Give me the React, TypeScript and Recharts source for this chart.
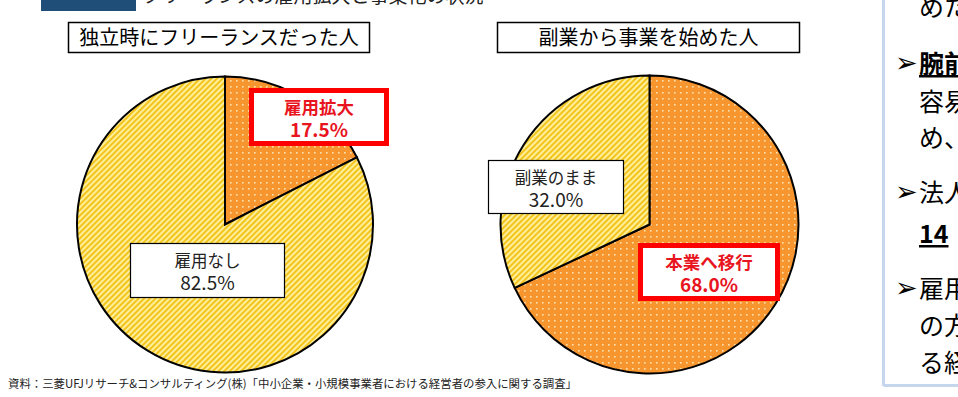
import React from 'react';
import { PieChart, Pie, Cell } from 'recharts';

// ---- data ----
const freelanceCategories = ['雇用拡大', '雇用なし'];
const freelanceValues = [17.5, 82.5];
const sideCategories = ['本業へ移行', '副業のまま'];
const sideValues = [68.0, 32.0];
const chartTitles = ['独立時にフリーランスだった人', '副業から事業を始めた人'];
const sourceNote = '資料：三菱UFJリサーチ&コンサルティング(株)「中小企業・小規模事業者における経営者の参入に関する調査」';
const sideTextLines = ['めた', '腕前', '容易', 'め、', '法人', '14', '雇用', 'の方', 'る経'];

const freelanceData = freelanceCategories.map((name, i) => ({ name, value: freelanceValues[i] }));
const sideData = sideCategories.map((name, i) => ({ name, value: sideValues[i] }));

const FONT = '"Noto Sans CJK JP", "Noto Sans", sans-serif';
const W = 958;
const H = 397;

type Box = { x: number; y: number; w: number; h: number; red: boolean; label: string; value: number };

const boxes: Box[] = [
  { x: 251.5, y: 90.5, w: 135, h: 53, red: true, label: freelanceCategories[0], value: freelanceValues[0] },
  { x: 130.5, y: 243.5, w: 154, h: 54, red: false, label: freelanceCategories[1], value: freelanceValues[1] },
  { x: 640.5, y: 245.5, w: 137, h: 53, red: true, label: sideCategories[0], value: sideValues[0] },
  { x: 488.5, y: 160.5, w: 135, h: 53, red: false, label: sideCategories[1], value: sideValues[1] },
];

const sideLayout = [
  { y: 16, arrow: false, bold: false, ul: false },
  { y: 73, arrow: true, bold: true, ul: true },
  { y: 111, arrow: false, bold: false, ul: false },
  { y: 147, arrow: false, bold: false, ul: false },
  { y: 202, arrow: true, bold: false, ul: false },
  { y: 243, arrow: false, bold: true, ul: true },
  { y: 298, arrow: true, bold: false, ul: false },
  { y: 335, arrow: false, bold: false, ul: false },
  { y: 372, arrow: false, bold: false, ul: false },
];

export default function App() {
  return (
    <div style={{ position: 'absolute', left: 0, top: 0, width: W, height: H, overflow: 'hidden', background: '#fff', fontFamily: FONT }}>
      <svg width={0} height={0} style={{ position: 'absolute' }}>
        <defs>
          <pattern id="hatch" width={4} height={4} patternUnits="userSpaceOnUse" patternTransform="rotate(45)">
            <rect width={4} height={4} fill="#FFEE9A" />
            <rect width={2} height={4} fill="#F2C41C" />
          </pattern>
          <pattern id="dots" width={6} height={6} patternUnits="userSpaceOnUse">
            <rect width={6} height={6} fill="#F7962F" />
            <rect x={2} y={2} width={1.6} height={1.6} fill="#FFE2B0" />
          </pattern>
        </defs>
      </svg>

      <div style={{ position: 'absolute', left: 0, top: 0 }}>
        <PieChart width={W} height={H} margin={{ top: 0, right: 0, bottom: 0, left: 0 }}>
          <Pie
            data={freelanceData}
            dataKey="value"
            nameKey="name"
            cx={225}
            cy={224.5}
            outerRadius={148}
            startAngle={90}
            endAngle={-270}
            stroke="#000"
            strokeWidth={2}
            label={false}
            labelLine={false}
            isAnimationActive={false}
          >
            <Cell fill="url(#dots)" />
            <Cell fill="url(#hatch)" />
          </Pie>
          <Pie
            data={sideData}
            dataKey="value"
            nameKey="name"
            cx={649.5}
            cy={224.5}
            outerRadius={149}
            startAngle={90}
            endAngle={-270}
            stroke="#000"
            strokeWidth={2}
            label={false}
            labelLine={false}
            isAnimationActive={false}
          >
            <Cell fill="url(#dots)" />
            <Cell fill="url(#hatch)" />
          </Pie>
        </PieChart>
      </div>

      <svg width={W} height={H} style={{ position: 'absolute', left: 0, top: 0 }} fontFamily={FONT}>
        {/* header fragment */}
        <rect x={41} y={0} width={95} height={11} fill="#1F4E79" />
        <text x={142} y={3} fontSize={19} fill="#222">フリーランスの雇用拡大と事業化の状況</text>

        {/* titles */}
        <rect x={68.5} y={22.5} width={301} height={30} fill="#fff" stroke="#000" strokeWidth={1.5} />
        <text x={219} y={45} fontSize={20} textAnchor="middle" fill="#000">{chartTitles[0]}</text>
        <rect x={497.5} y={22.5} width={302} height={30} fill="#fff" stroke="#000" strokeWidth={1.5} />
        <text x={648.5} y={45} fontSize={20} textAnchor="middle" fill="#000">{chartTitles[1]}</text>

        {/* slice labels */}
        {boxes.map((b, i) => {
          const cx = b.x + b.w / 2;
          const col = b.red ? '#E8141E' : '#222';
          return (
            <g key={i}>
              <rect x={b.x} y={b.y} width={b.w} height={b.h} fill="#fff" stroke={b.red ? '#FF0000' : '#000'} strokeWidth={b.red ? 5 : 1.2} />
              <text x={cx} y={b.y + 23} fontSize={b.red ? 17.5 : 16.5} fontWeight={b.red ? 700 : 400} textAnchor="middle" fill={col}>{b.label}</text>
              <text x={cx} y={b.y + 46} fontSize={19} fontWeight={b.red ? 700 : 400} textAnchor="middle" fill={col}>{b.value.toFixed(1) + '%'}</text>
            </g>
          );
        })}

        {/* source */}
        <text x={8} y={388} fontSize={11.4} fill="#222">{sourceNote}</text>

        {/* right panel */}
        <line x1={883.5} y1={0} x2={883.5} y2={386} stroke="#C6D6EC" strokeWidth={3} />
        <line x1={883.5} y1={385.5} x2={958} y2={385.5} stroke="#C6D6EC" strokeWidth={3} />
        {sideLayout.map((l, i) => (
          <g key={i}>
            {l.arrow && <text x={895} y={l.y - 1} fontSize={27} fill="#000" fontFamily="DejaVu Sans">➢</text>}
            <text x={919} y={l.y} fontSize={25} fontWeight={l.bold ? 700 : 400} fill="#000" textDecoration={l.ul ? 'underline' : undefined}>{sideTextLines[i]}</text>
          </g>
        ))}
      </svg>
    </div>
  );
}
